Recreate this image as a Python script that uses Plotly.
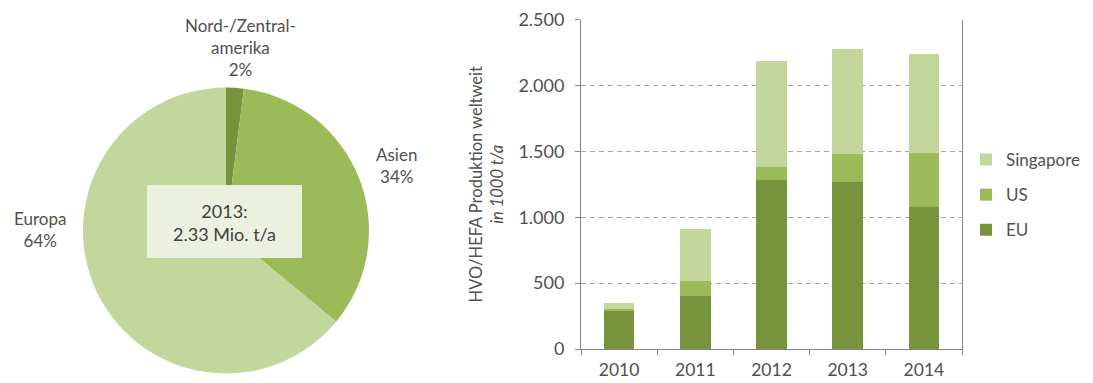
import plotly.graph_objects as go

# ---- data ----
years = ["2010", "2011", "2012", "2013", "2014"]
eu = [296, 402, 1285, 1270, 1080]
us = [5, 114, 98, 207, 405]
singapore = [46, 394, 802, 797, 751]

regions = ["Nord-/Zentral-<br>amerika", "Asien", "Europa"]
shares = [2, 34, 64]
pie_note = "2013:<br>2.33 Mio. t/a"

y_ticks = [0, 500, 1000, 1500, 2000, 2500]

# ---- style ----
FONT = "Lato"
TXT = "#505050"
C_EU = "#77933c"
C_US = "#9bbb59"
C_SG = "#c3d69b"
W, H = 1093, 383

fig = go.Figure()

fig.add_trace(go.Pie(
    labels=regions, values=shares, sort=False, direction="clockwise", rotation=0,
    marker=dict(colors=[C_EU, C_US, C_SG], line=dict(width=0)),
    textinfo="none", hoverinfo="label+percent", showlegend=False,
    domain=dict(x=[83 / W, 369 / W], y=[1 - 374 / H, 1 - 87 / H]),
))

for name, vals, col, rank in [("EU", eu, C_EU, 3), ("US", us, C_US, 2),
                              ("Singapore", singapore, C_SG, 1)]:
    fig.add_trace(go.Bar(x=years, y=vals, name=name, marker=dict(color=col, line=dict(width=0)),
                         legendgroup=name, legendrank=rank))

# pie labels
label_pos = [(240, 47), (396, 165), (40, 229)]
for lab, val, (px, py) in zip(regions, shares, label_pos):
    fig.add_annotation(x=px / W, y=1 - py / H, xref="paper", yref="paper",
                       xanchor="center", yanchor="middle",
                       text=f"{lab}<br>{val}%", showarrow=False,
                       font=dict(family=FONT, size=17, color=TXT), align="center")

# center box
fig.add_shape(type="rect", xref="paper", yref="paper",
              x0=147 / W, x1=302 / W, y0=1 - 258 / H, y1=1 - 185 / H,
              fillcolor="#ebf1de", line=dict(width=0), layer="above")
fig.add_annotation(x=224.5 / W, y=1 - 222 / H, xref="paper", yref="paper",
                   xanchor="center", yanchor="middle",
                   text=pie_note, showarrow=False,
                   font=dict(family=FONT, size=18, color="#404040"), align="center")

fig.update_layout(
    width=W, height=H, margin=dict(l=0, r=0, t=0, b=0, autoexpand=False),
    paper_bgcolor="white", plot_bgcolor="white",
    barmode="stack", bargap=0.6, separators=",.",
    font=dict(family=FONT, size=16, color=TXT),
    xaxis=dict(domain=[581 / W, 962 / W], showline=True, linecolor="#868686", linewidth=1,
               ticks="outside", tickson="boundaries", ticklen=5, tickcolor="#868686",
               showgrid=False, tickfont=dict(size=17.5, color=TXT), ticklabelstandoff=5,
               automargin=False),
    yaxis=dict(domain=[1 - 349 / H, 1 - 19.5 / H], range=[0, 2500], tickvals=y_ticks,
               tickformat=",", showline=True, mirror=True, linecolor="#868686", linewidth=1,
               ticks="outside", ticklen=5, tickcolor="#868686",
               showgrid=True, gridcolor="#a6a6a6", griddash="5px,4px", gridwidth=1,
               zeroline=False, tickfont=dict(size=18, color=TXT), ticklabelstandoff=7,
               automargin=False,
               title=dict(text="HVO/HEFA Produktion weltweit<br><i>in 1000 t/a</i>",
                          font=dict(size=16.5, color=TXT), standoff=10)),
    legend=dict(x=966 / W, y=1 - 142 / H, xanchor="left", yanchor="top",
                traceorder="grouped", tracegroupgap=10,
                font=dict(size=17, color=TXT), bgcolor="rgba(0,0,0,0)"),
)

fig.write_html("out.html")
